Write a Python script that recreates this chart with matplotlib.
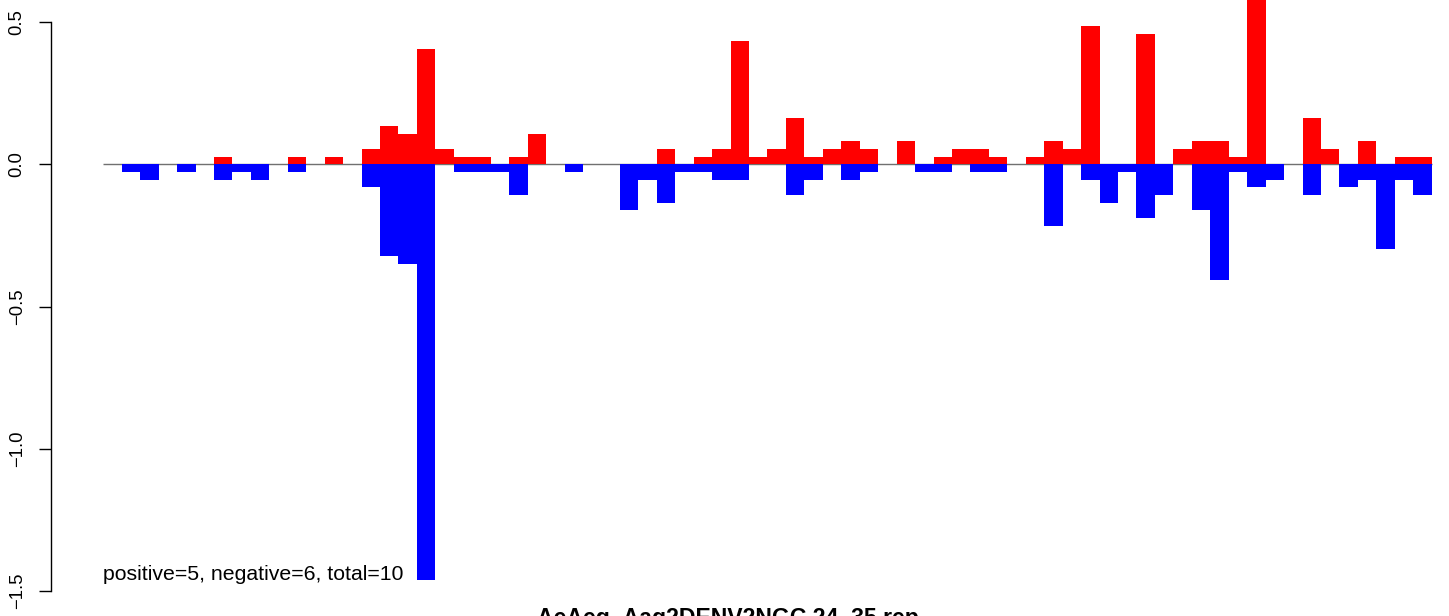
import matplotlib
matplotlib.use("Agg")
import matplotlib.pyplot as plt
import numpy as np

plt.rcParams['font.family'] = ['Liberation Sans', 'DejaVu Sans']

# bar heights per position (positive strand up, negative strand down)
positive = [0, 0, 0, 0, 0, 0, 0.027, 0, 0, 0, 0.027, 0, 0.027, 0, 0.054, 0.135,
            0.108, 0.405, 0.054, 0.027, 0.027, 0, 0.027, 0.108, 0, 0, 0, 0, 0, 0,
            0.054, 0, 0.027, 0.054, 0.432, 0.027, 0.054, 0.162, 0.027, 0.054, 0.081, 0.054,
            0, 0.081, 0, 0.027, 0.054, 0.054, 0.027, 0, 0.027, 0.081, 0.054, 0.486,
            0, 0, 0.459, 0, 0.054, 0.081, 0.081, 0.027, 0.595, 0, 0, 0.162,
            0.054, 0, 0.081, 0, 0.027, 0.027]
negative = [0, 0.027, 0.054, 0, 0.027, 0, 0.054, 0.027, 0.054, 0, 0.027, 0, 0, 0, 0.081, 0.324,
            0.351, 1.459, 0, 0.027, 0.027, 0.027, 0.108, 0, 0, 0.027, 0, 0, 0.162, 0.054,
            0.135, 0.027, 0.027, 0.054, 0.054, 0, 0, 0.108, 0.054, 0, 0.054, 0.027,
            0, 0, 0.027, 0.027, 0, 0.027, 0.027, 0, 0, 0.216, 0, 0.054,
            0.135, 0.027, 0.189, 0.108, 0, 0.162, 0.405, 0.027, 0.081, 0.054, 0, 0.108,
            0, 0.081, 0.054, 0.297, 0.054, 0.108]
yticks = [-1.5, -1.0, -0.5, 0.0, 0.5]
info = "positive=5, negative=6, total=10"
title = "AeAeg_Aag2DENV2NGC 24_35 rep"

x = np.arange(len(positive))
pos = np.array(positive)
neg = -np.array(negative)

fig = plt.figure(figsize=(14.49, 6.16), dpi=100)
ax = fig.add_axes([0, 0, 1, 1])
ax.set_xlim(-5.599, 72.94)
ax.set_ylim(-1.587, 0.577)

ax.hlines(0, 0, len(positive), color='#707070', linewidth=1, zorder=1)
ax.bar(x, neg, width=1, align='edge', color='blue', linewidth=0, zorder=2)
ax.bar(x, pos, width=1, align='edge', color='red', linewidth=0, zorder=3)

ax.text(0, neg.min(), info, fontsize=15.3, ha='left', va='baseline')
ax.text(33.86, -1.617, title, fontsize=16.6, fontweight='bold',
        ha='center', va='baseline', clip_on=False)

for s in ['top', 'right', 'bottom']:
    ax.spines[s].set_visible(False)
ax.spines['left'].set_position(('data', -2.851))
ax.spines['left'].set_bounds(-1.5, 0.5)
ax.spines['left'].set_linewidth(1)
ax.set_xticks([])
ax.set_yticks(yticks)
ax.set_yticklabels([('%.1f' % v).replace('-', '\u2212') for v in yticks],
                   rotation=90, va='center', fontsize=13.3)
ax.tick_params(axis='y', direction='out', length=9, width=1, pad=9)
ax.patch.set_alpha(0)

fig.savefig('out.png', dpi=100)
